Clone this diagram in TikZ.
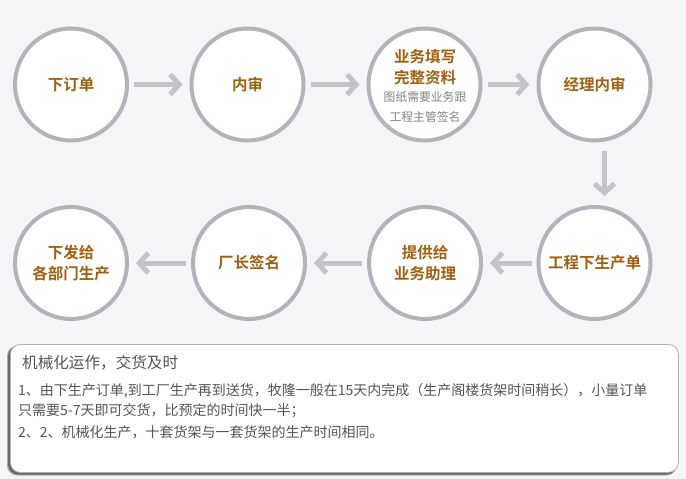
\documentclass[tikz,border=0pt]{standalone}
\usepackage{fontspec}
\newfontfamily\cjk[BoldFont={Noto Sans CJK SC Bold}]{Noto Sans CJK SC}
\usetikzlibrary{arrows.meta}
\definecolor{bgc}{RGB}{244,245,246}
\definecolor{ringc}{RGB}{180,179,187}
\definecolor{arrc}{RGB}{196,195,202}
\definecolor{labc}{RGB}{160,96,16}
\definecolor{subc}{RGB}{130,130,130}
\definecolor{txtc}{RGB}{85,85,85}
\definecolor{boxc}{RGB}{175,175,180}
\definecolor{shadc}{RGB}{105,105,105}
\tikzset{
  stepcircle/.style={circle,draw=ringc,fill=white,line width=4pt,minimum size=112pt,inner sep=0pt,
    font=\cjk\bfseries\fontsize{15.5}{21}\selectfont,text=labc,align=center},
  flowarrow/.style={draw=arrc,line width=5pt,-{Straight Barb[length=9pt,width=20pt,line width=5pt]},
    shorten <=5pt,shorten >=7pt},
  boxtext/.style={anchor=west,inner sep=0pt,text=txtc,font=\cjk\fontsize{14}{18}\selectfont},
}
\begin{document}
\begin{tikzpicture}[x=1pt,y=-1pt]
\fill[bgc] (0,0) rectangle (686,479);
\useasboundingbox (0,0) rectangle (686,479);
% row 1
\node[stepcircle] (c1) at (71,84.5) {下订单};
\node[stepcircle] (c2) at (247.5,84.5) {内审};
\node[stepcircle] (c3) at (424.5,84.5) {};
\node[stepcircle] (c4) at (594.5,84.5) {经理内审};
% row 2
\node[stepcircle] (c8) at (71,263) {下发给\\各部门生产};
\node[stepcircle] (c7) at (249,263) {厂长签名};
\node[stepcircle] (c6) at (425,263) {提供给\\业务助理};
\node[stepcircle] (c5) at (594.5,263) {工程下生产单};
% texts in circle 3
\node[inner sep=0pt,font=\cjk\bfseries\fontsize{15.5}{21}\selectfont,text=labc,align=center] (t3a) at (425,67.5) {业务填写\\完整资料};
\node[inner sep=0pt,font=\cjk\fontsize{11.8}{20}\selectfont,text=subc,align=center] (t3b) at (425,107) {图纸需要业务跟\\工程主管签名};
% arrows
\draw[flowarrow] (c1) -- (c2);
\draw[flowarrow] (c2) -- (c3);
\draw[flowarrow] (c3) -- (c4);
\draw[flowarrow,shorten <=8pt,shorten >=9pt] ([xshift=10pt]c4.south) -- ([xshift=10pt]c5.north);
\draw[flowarrow] (c5) -- (c6);
\draw[flowarrow] (c6) -- (c7);
\draw[flowarrow] (c7) -- (c8);
% info box
\fill[shadc!55,rounded corners=10pt] (7,346) rectangle (676,475.5);
\fill[shadc,rounded corners=10pt] (8,346) rectangle (677,474.5);
\node[draw=boxc,fill=white,line width=0.8pt,rounded corners=10pt,minimum width=668pt,minimum height=128pt,anchor=north west,inner sep=0pt] (box) at (10,344) {};
\node[boxtext,font=\cjk\fontsize{15.6}{20}\selectfont] (title) at (22,363) {机械化运作，交货及时};
\node[boxtext] (l1) at (18,390.5) {1、由下生产订单,到工厂生产再到送货，牧隆一般在15天内完成（生产阁楼货架时间稍长），小量订单};
\node[boxtext] (l2) at (18,411) {只需要5-7天即可交货，比预定的时间快一半；};
\node[boxtext] (l3) at (18,432) {2、2、机械化生产，十套货架与一套货架的生产时间相同。};
\end{tikzpicture}
\end{document}
